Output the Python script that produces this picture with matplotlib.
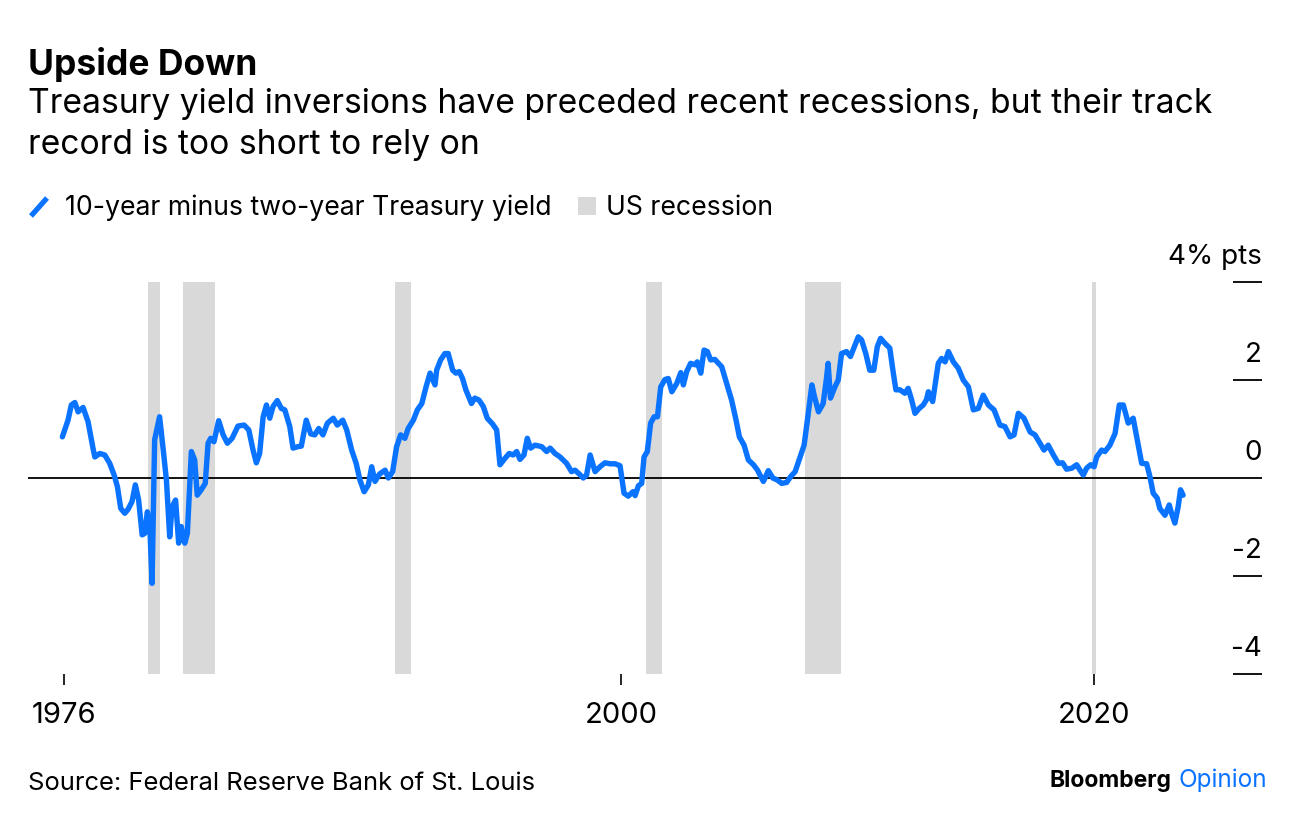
import matplotlib
matplotlib.use("Agg")
import matplotlib.pyplot as plt
import matplotlib.transforms as mtransforms

plt.rcParams['font.family'] = ['Inter', 'DejaVu Sans']

# 10-year minus 2-year Treasury spread (% pts)
years = [1976.36, 1976.6, 1976.74, 1976.89, 1977.03, 1977.24, 1977.45, 1977.66, 1977.74, 1977.95,
         1978.16, 1978.37, 1978.56, 1978.7, 1978.84, 1979.01, 1979.15, 1979.32, 1979.46, 1979.6,
         1979.75, 1979.86, 1979.97, 1980.07, 1980.17, 1980.28, 1980.49, 1980.63, 1980.78, 1980.92,
         1981.02, 1981.17, 1981.3, 1981.41, 1981.56, 1981.67, 1981.84, 1981.98, 1982.09, 1982.26,
         1982.43, 1982.55, 1982.66, 1982.8, 1983.0, 1983.19, 1983.37, 1983.57, 1983.82, 1984.08,
         1984.28, 1984.46, 1984.6, 1984.74, 1984.89, 1985.03, 1985.17, 1985.31, 1985.49, 1985.66,
         1985.81, 1986.02, 1986.16, 1986.37, 1986.51, 1986.72, 1986.91, 1987.08, 1987.25, 1987.43,
         1987.62, 1987.87, 1988.04, 1988.27, 1988.44, 1988.65, 1988.84, 1989.0, 1989.18, 1989.36,
         1989.5, 1989.64, 1989.83, 1990.07, 1990.21, 1990.39, 1990.56, 1990.73, 1990.91, 1991.05,
         1991.27, 1991.44, 1991.63, 1991.81, 1991.98, 1992.19, 1992.26, 1992.43, 1992.61, 1992.75,
         1992.94, 1993.08, 1993.22, 1993.36, 1993.5, 1993.74, 1993.88, 1994.06, 1994.24, 1994.41,
         1994.64, 1994.81, 1994.95, 1995.16, 1995.34, 1995.51, 1995.66, 1995.8, 1995.97, 1996.11,
         1996.25, 1996.44, 1996.72, 1996.93, 1997.08, 1997.29, 1997.5, 1997.78, 1997.99, 1998.14,
         1998.32, 1998.49, 1998.63, 1998.78, 1998.99, 1999.2, 1999.41, 1999.63, 1999.84, 2000.05,
         2000.22, 2000.4, 2000.6, 2000.69, 2000.83, 2000.97, 2001.07, 2001.21, 2001.35, 2001.5,
         2001.64, 2001.78, 2001.96, 2002.1, 2002.25, 2002.46, 2002.63, 2002.74, 2002.88, 2003.05,
         2003.24, 2003.33, 2003.48, 2003.62, 2003.76, 2003.9, 2004.08, 2004.23, 2004.37, 2004.58,
         2004.79, 2004.98, 2005.12, 2005.32, 2005.5, 2005.72, 2005.89, 2006.14, 2006.35, 2006.54,
         2006.73, 2006.92, 2007.13, 2007.3, 2007.49, 2007.7, 2007.87, 2008.01, 2008.2, 2008.31,
         2008.48, 2008.68, 2008.82, 2008.89, 2008.99, 2009.18, 2009.32, 2009.46, 2009.67, 2009.84,
         2010.03, 2010.17, 2010.31, 2010.49, 2010.66, 2010.83, 2010.98, 2011.12, 2011.3, 2011.51,
         2011.66, 2011.77, 2011.94, 2012.15, 2012.29, 2012.44, 2012.58, 2012.76, 2012.93, 2013.07,
         2013.15, 2013.33, 2013.57, 2013.71, 2013.86, 2014.0, 2014.21, 2014.42, 2014.63, 2014.85,
         2015.06, 2015.27, 2015.48, 2015.7, 2015.94, 2016.19, 2016.4, 2016.62, 2016.79, 2016.97,
         2017.21, 2017.47, 2017.68, 2017.89, 2018.06, 2018.24, 2018.46, 2018.67, 2018.85, 2019.02,
         2019.24, 2019.45, 2019.59, 2019.73, 2019.87, 2020.04, 2020.19, 2020.3, 2020.51, 2020.65,
         2020.86, 2021.08, 2021.26, 2021.43, 2021.64, 2021.85, 2022.0, 2022.21, 2022.42, 2022.56,
         2022.7, 2022.87, 2022.98, 2023.2, 2023.38, 2023.48, 2023.62, 2023.76, 2023.86, 2023.97]
spread = [0.84, 1.18, 1.49, 1.54, 1.35, 1.44, 1.15, 0.61, 0.43, 0.50,
          0.47, 0.30, 0.06, -0.18, -0.62, -0.72, -0.64, -0.48, -0.14, -0.45,
          -1.16, -1.13, -0.69, -0.92, -2.15, 0.78, 1.25, 0.64, -0.04, -1.2,
          -0.59, -0.45, -1.33, -0.99, -1.33, -1.13, 0.54, 0.37, -0.35, -0.24,
          -0.11, 0.71, 0.81, 0.74, 1.17, 0.88, 0.71, 0.81, 1.06, 1.08,
          0.98, 0.57, 0.31, 0.5, 1.25, 1.49, 1.22, 1.46, 1.58, 1.42,
          1.39, 1.05, 0.61, 0.64, 0.65, 1.18, 0.9, 0.88, 1.01, 0.88,
          1.12, 1.22, 1.08, 1.18, 0.98, 0.57, 0.3, -0.04, -0.28, -0.14,
          0.23, -0.07, 0.08, 0.16, 0.0, 0.13, 0.64, 0.88, 0.81, 1.01,
          1.18, 1.39, 1.52, 1.86, 2.14, 1.9, 2.2, 2.41, 2.54, 2.54,
          2.2, 2.14, 2.17, 2.03, 1.8, 1.52, 1.63, 1.59, 1.46, 1.22,
          1.1, 0.98, 0.27, 0.4, 0.5, 0.47, 0.54, 0.38, 0.47, 0.81,
          0.61, 0.67, 0.64, 0.54, 0.61, 0.5, 0.43, 0.3, 0.13, 0.16,
          0.08, 0.0, 0.06, 0.47, 0.13, 0.23, 0.31, 0.29, 0.29, 0.25,
          -0.31, -0.37, -0.28, -0.36, -0.16, -0.11, 0.43, 0.54, 1.12, 1.25,
          1.25, 1.86, 2.01, 2.03, 1.76, 1.93, 2.15, 1.9, 2.17, 2.34,
          2.31, 2.37, 2.14, 2.61, 2.58, 2.41, 2.42, 2.34, 2.27, 1.93,
          1.59, 1.18, 0.84, 0.67, 0.37, 0.27, 0.16, -0.07, 0.15, 0.0,
          -0.04, -0.11, -0.09, 0.03, 0.13, 0.43, 0.67, 1.18, 1.9, 1.66,
          1.35, 1.52, 2.03, 2.34, 1.63, 1.86, 2.0, 2.54, 2.58, 2.48,
          2.71, 2.88, 2.82, 2.54, 2.2, 2.2, 2.68, 2.85, 2.75, 2.65,
          2.14, 1.8, 1.8, 1.73, 1.83, 1.59, 1.32, 1.42, 1.49, 1.6,
          1.76, 1.56, 2.34, 2.44, 2.37, 2.58, 2.37, 2.24, 2.0, 1.86,
          1.39, 1.42, 1.69, 1.49, 1.39, 1.08, 1.05, 0.84, 0.88, 1.32,
          1.22, 0.94, 0.88, 0.71, 0.57, 0.67, 0.47, 0.3, 0.31, 0.18,
          0.2, 0.27, 0.16, 0.06, 0.2, 0.27, 0.23, 0.43, 0.57, 0.54,
          0.67, 0.91, 1.49, 1.49, 1.12, 1.22, 0.84, 0.3, 0.29, 0.03,
          -0.31, -0.41, -0.62, -0.76, -0.55, -0.72, -0.92, -0.59, -0.24, -0.35]

# US recessions (start, end) as fractional years
rec_start = [1980.0, 1981.5, 1990.5, 2001.17, 2007.92, 2020.08]
rec_end = [1980.5, 1982.83, 1991.17, 2001.83, 2009.42, 2020.25]

x_ticks = [1976.45, 2000.1, 2020.2]
x_labels = ['1976', '2000', '2020']
y_ticks = [4, 2, 0, -2, -4]
y_labels = ['4% pts', '2', '0', '-2', '-4']

BLUE = '#0A73FF'
GREY = '#D9D9D9'

W, H = 1296, 824
fig = plt.figure(figsize=(W / 100, H / 100), dpi=100)
ax = fig.add_axes([28 / W, 1 - 674 / H, 1205 / W, 392 / H])

for s, e in zip(rec_start, rec_end):
    ax.axvspan(s, e, color=GREY, lw=0, zorder=0)
ax.axhline(0, color='black', lw=1.3, zorder=1)
ax.plot(years, spread, color=BLUE, lw=3.9, solid_joinstyle='round',
        solid_capstyle='round', zorder=3)

ax.set_xlim(1974.9, 2026.09)
ax.set_ylim(-4, 4)
for sp in ax.spines.values():
    sp.set_visible(False)

ax.set_xticks(x_ticks)
ax.set_xticklabels(x_labels, fontsize=21)
ax.tick_params(axis='x', length=8, width=1.2, pad=12, colors='black')

ax.set_yticks(y_ticks)
ax.tick_params(axis='y', left=False, right=True, labelleft=False, labelright=False,
               length=21, width=1.3, direction='out')

# y labels sit above their tick marks
trans = mtransforms.blended_transform_factory(ax.transAxes, ax.transData) + \
    mtransforms.ScaledTranslation(0, 12 / 100, fig.dpi_scale_trans)
for v, lab in zip(y_ticks, y_labels):
    ax.text(1 + 29 / 1205, v, lab, transform=trans, ha='right', va='bottom',
            fontsize=20)

# title block
fig.text(28 / W, 1 - 75 / H, 'Upside Down', fontsize=25.5, fontweight='bold',
         va='baseline', ha='left')
fig.text(28 / W, 1 - 113 / H,
         'Treasury yield inversions have preceded recent recessions, but their track',
         fontsize=24.2, va='baseline', ha='left')
fig.text(28 / W, 1 - 154 / H, 'record is too short to rely on',
         fontsize=24.2, va='baseline', ha='left')

# legend
fig.add_artist(plt.Line2D([31 / W, 47 / W], [1 - 216 / H, 1 - 198 / H], color=BLUE,
                          lw=3.8, solid_capstyle='butt'))
fig.text(65 / W, 1 - 215 / H, '10-year minus two-year Treasury yield', fontsize=19.2,
         va='baseline', ha='left')
fig.add_artist(plt.Rectangle((578 / W, 1 - 215 / H), 18 / W, 18 / H, color=GREY, lw=0))
fig.text(606 / W, 1 - 215 / H, 'US recession', fontsize=19.2, va='baseline', ha='left')

# footer
fig.text(28 / W, 1 - 790 / H, 'Source: Federal Reserve Bank of St. Louis', fontsize=18.4,
         va='baseline', ha='left')
op = fig.text(1267 / W, 1 - 787 / H, 'Opinion', fontsize=17.5, color=BLUE,
              va='baseline', ha='right')
ax.annotate('Bloomberg', xy=(0, 0), xycoords=op, xytext=(-5, 0),
            textcoords='offset points', ha='right', va='bottom',
            fontsize=16.5, fontweight='bold', annotation_clip=False)

fig.savefig('out.png', dpi=100)
